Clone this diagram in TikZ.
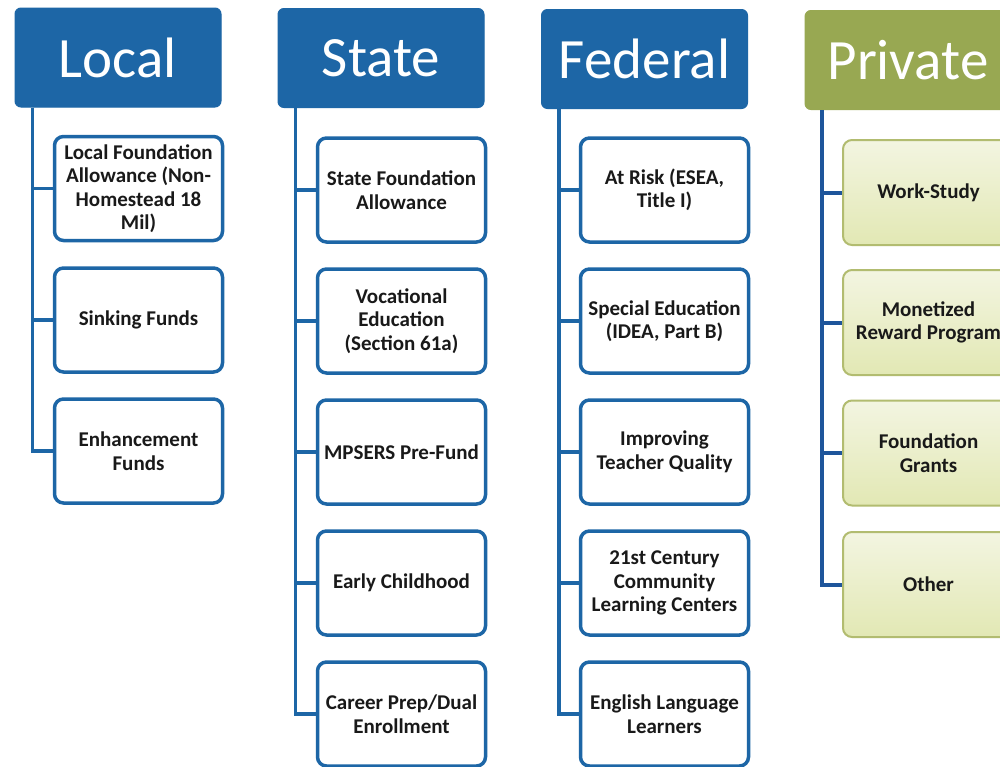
\documentclass[tikz,border=0pt]{standalone}
\usepackage{fontspec}
\setmainfont{Carlito}
\definecolor{hblue}{RGB}{29,102,166}
\definecolor{lblue}{RGB}{30,85,155}
\definecolor{hgreen}{RGB}{152,168,82}
\definecolor{gborder}{RGB}{178,188,112}
\definecolor{gtop}{RGB}{243,245,225}
\definecolor{gbot}{RGB}{226,232,180}
\definecolor{txt}{RGB}{25,25,25}
\begin{document}
\begin{tikzpicture}[x=1pt,y=-1pt,
  hdr/.style={rectangle, rounded corners=6pt, fill=hblue, draw=hblue, line width=1pt,
    minimum width=206pt, minimum height=99pt, text=white,
    font=\fontsize{57}{60}\selectfont, inner sep=0pt},
  ghdr/.style={hdr, fill=hgreen, draw=hgreen},
  item/.style={rectangle, rounded corners=9pt, draw=hblue, line width=3.5pt, fill=white,
    minimum width=168pt, minimum height=104pt, text=txt, align=center,
    font=\bfseries\fontsize{21}{23.5}\selectfont, inner sep=0pt},
  gitem/.style={item, draw=gborder, line width=2pt, top color=gtop, bottom color=gbot,
    minimum width=171pt, minimum height=105pt},
  conn/.style={draw=hblue, line width=3.5pt},
  gconn/.style={draw=lblue, line width=4pt}]
\useasboundingbox (0,0) rectangle (1000,766);
\clip (0,0) rectangle (1000,766);
\fill[white] (0,0) rectangle (1000,766);

% Local
\node[hdr] (L) at (118,57.5) {Local};
\node[item] (L1) at (138.5,188.5) {Local Foundation\\Allowance (Non-\\Homestead 18\\Mil)};
\node[item] (L2) at (138.5,320) {Sinking Funds};
\node[item] (L3) at (138.5,451) {Enhancement\\Funds};
\foreach \c in {L1,L2,L3} \draw[conn] ([xshift=18pt]L.south west) |- (\c.west);

% State
\node[hdr] (S) at (381,58) {State};
\node[item] (S1) at (401.5,190) {State Foundation\\Allowance};
\node[item] (S2) at (401.5,321) {Vocational\\Education\\(Section 61a)};
\node[item] (S3) at (401.5,452) {MPSERS Pre-Fund};
\node[item] (S4) at (401.5,583) {Early Childhood};
\node[item] (S5) at (401.5,714) {Career Prep/Dual\\Enrollment};
\foreach \c in {S1,S2,S3,S4,S5} \draw[conn] ([xshift=18pt]S.south west) |- (\c.west);

% Federal
\node[hdr] (F) at (644.5,59) {Federal};
\node[item] (F1) at (664.5,190) {At Risk (ESEA,\\Title I)};
\node[item] (F2) at (664.5,321) {Special Education\\(IDEA, Part B)};
\node[item] (F3) at (664.5,452) {Improving\\Teacher Quality};
\node[item] (F4) at (664.5,583) {21st Century\\Community\\Learning Centers};
\node[item] (F5) at (664.5,714) {English Language\\Learners};
\foreach \c in {F1,F2,F3,F4,F5} \draw[conn] ([xshift=18pt]F.south west) |- (\c.west);

% Private
\node[ghdr] (P) at (908,60) {Private};
\node[gitem] (P1) at (928.5,192.5) {Work-Study};
\node[gitem] (P2) at (928.5,322.5) {Monetized\\Reward Program};
\node[gitem] (P3) at (928.5,453) {Foundation\\Grants};
\node[gitem] (P4) at (928.5,584.5) {Other};
\foreach \c in {P1,P2,P3,P4} \draw[gconn] ([xshift=17pt]P.south west) |- (\c.west);
\end{tikzpicture}
\end{document}
